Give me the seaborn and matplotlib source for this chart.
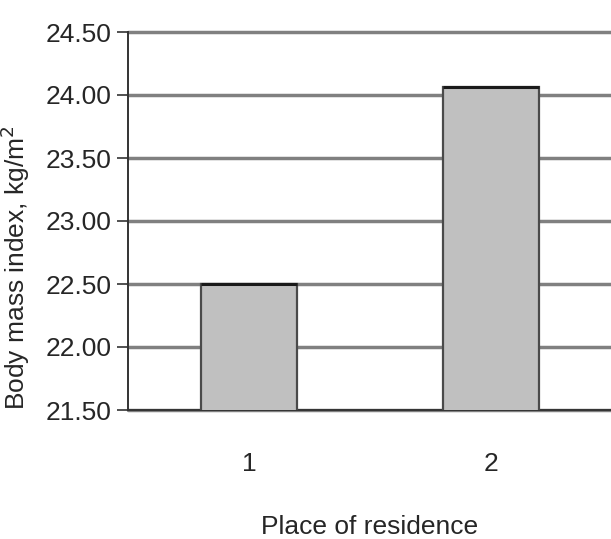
import matplotlib
matplotlib.use("Agg")
import matplotlib.pyplot as plt
import seaborn as sns
import pandas as pd

places = ["1", "2"]
bmi = [22.50, 24.06]
y_ticks = [21.50, 22.00, 22.50, 23.00, 23.50, 24.00, 24.50]

sns.set_theme(style="white")
plt.rcParams["font.family"] = ["Liberation Sans", "DejaVu Sans"]

df = pd.DataFrame({"place": places, "bmi": bmi})

fig = plt.figure(figsize=(6.11, 5.39), dpi=100)
ax = fig.add_axes([128 / 611, 1 - 410 / 539, 484 / 611, 378 / 539])

sns.barplot(data=df, x="place", y="bmi", color="#c0c0c0", saturation=1,
            width=0.4, edgecolor="#4a4a4a", linewidth=1.6, ax=ax, zorder=3)

# darker line along the top of each bar
for patch in ax.patches:
    x0, w, top = patch.get_x(), patch.get_width(), patch.get_y() + patch.get_height()
    ax.plot([x0, x0 + w], [top, top], color="#1a1a1a", linewidth=2.2,
            solid_capstyle="butt", zorder=4)

ax.set_ylim(21.5, 24.5)
ax.set_xlim(-0.5, 1.5)
ax.set_yticks(y_ticks)
ax.set_yticklabels([f"{v:.2f}" for v in y_ticks], fontsize=19)
ax.yaxis.grid(True, color="#808080", linewidth=2.5, zorder=0)
for gl in ax.get_ygridlines():
    gl.set_clip_on(False)
ax.set_axisbelow(True)

# category labels centred under bars, tick marks at category boundaries
ax.set_xticks([0, 1])
ax.set_xticklabels(places, fontsize=19)
ax.tick_params(axis="x", length=0, pad=30)
ax.set_xticks([-0.5, 0.5, 1.5], minor=True)
ax.tick_params(axis="x", which="minor", length=8, width=1.2, color="#333333")
ax.tick_params(axis="y", length=8, width=1.2, color="#333333", left=True, pad=4)

for side in ["top", "right"]:
    ax.spines[side].set_visible(False)
for side in ["left", "bottom"]:
    ax.spines[side].set_color("#333333")
    ax.spines[side].set_linewidth(1.4)

ax.set_xlabel("Place of residence", fontsize=19, labelpad=28)
ax.set_ylabel("Body mass index, kg/m$^2$", fontsize=19)
ax.yaxis.set_label_coords(-0.198, 0.376)

fig.savefig("out.png", dpi=100)
